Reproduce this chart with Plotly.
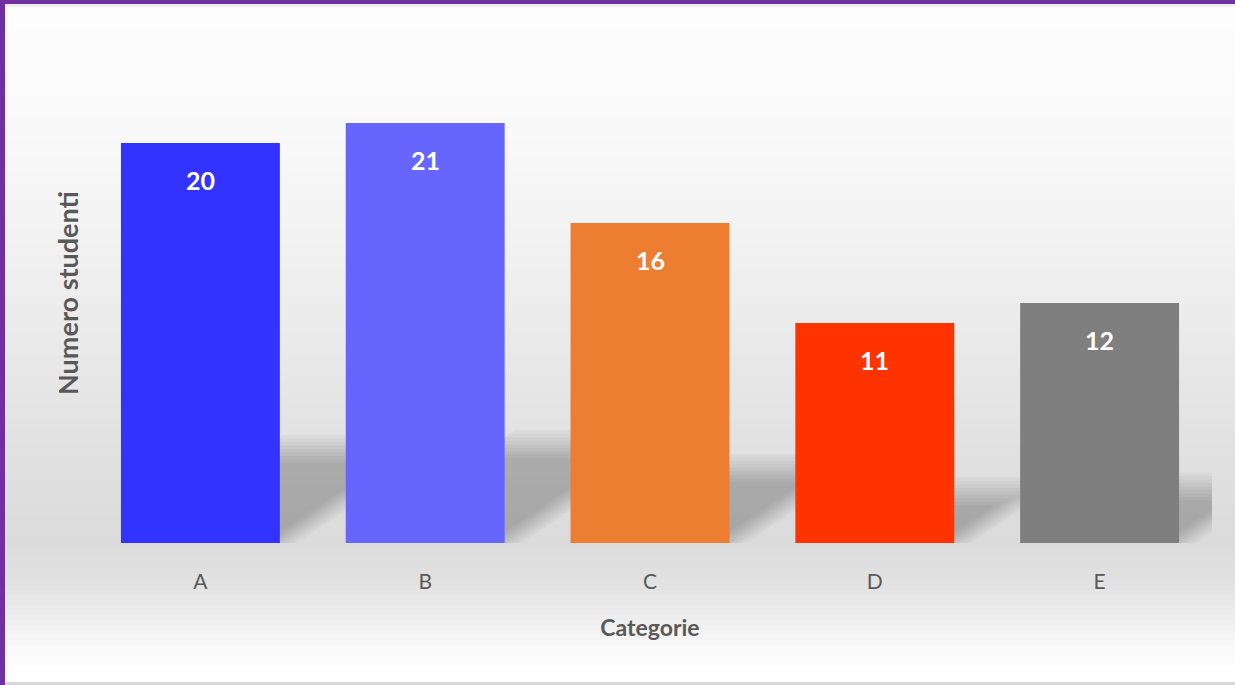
import plotly.graph_objects as go

# ---- data ----
categories = ["A", "B", "C", "D", "E"]
values = [20, 21, 16, 11, 12]
bar_colors = ["#3333FF", "#6666FF", "#ED7D31", "#FF3300", "#7F7F7F"]
x_title = "Categorie"
y_title = "Numero studenti"

# ---- geometry / style ----
W, H = 1235, 685
ML, MR, MT, MB = 88, 23, 43, 142
PW, PH = W - ML - MR, H - MT - MB
Y_MAX = 25
BAR_W = 0.707
TEXT = "#595959"
FONT = "Lato"
PX_X = 5 / PW       # category units per pixel
PX_Y = Y_MAX / PH   # value units per pixel


def paper_y(py):
    return (H - MB - py) / PH


def paper_x(px):
    return (px - ML) / PW


fig = go.Figure()
fig.add_trace(go.Bar(
    x=categories, y=values, width=BAR_W,
    marker=dict(color=bar_colors, line=dict(width=0)),
    hoverinfo="x+y", showlegend=False,
))

shapes = []

# background gradient (white -> grey -> white)
stops = [(0, 253), (60, 252), (150, 248), (250, 241), (350, 233), (450, 225),
         (540, 219), (580, 225), (620, 238), (650, 250), (670, 254), (685, 255)]


def grey_at(py):
    for (y0, c0), (y1, c1) in zip(stops[:-1], stops[1:]):
        if y0 <= py <= y1:
            t = (py - y0) / (y1 - y0) if y1 > y0 else 0
            return c0 + (c1 - c0) * t
    return stops[-1][1]


STEP = 5
for py in range(0, H, STEP):
    g = int(round(grey_at(py + STEP / 2)))
    shapes.append(dict(type="rect", xref="paper", yref="paper", layer="below",
                       x0=paper_x(0), x1=paper_x(W), y0=paper_y(py), y1=paper_y(py + STEP + 1),
                       fillcolor=f"rgb({g},{g},{g})", line=dict(width=0)))

# bottom thin line
shapes.append(dict(type="rect", xref="paper", yref="paper", layer="below",
                   x0=paper_x(0), x1=paper_x(W), y0=paper_y(685), y1=paper_y(682),
                   fillcolor="#d6d6d6", line=dict(width=0)))
# purple frame (top & left)
shapes.append(dict(type="rect", xref="paper", yref="paper", layer="below",
                   x0=paper_x(0), x1=paper_x(W), y0=paper_y(4), y1=paper_y(0),
                   fillcolor="#7030A0", line=dict(width=0)))
shapes.append(dict(type="rect", xref="paper", yref="paper", layer="below",
                   x0=paper_x(0), x1=paper_x(5), y0=paper_y(H), y1=paper_y(0),
                   fillcolor="#7030A0", line=dict(width=0)))
shapes.append(dict(type="rect", xref="paper", yref="paper", layer="below",
                   x0=paper_x(5), x1=paper_x(W), y0=paper_y(7), y1=paper_y(4),
                   fillcolor="rgba(0,0,0,0.06)", line=dict(width=0)))

# perspective shadows behind bars (sheared projection of each bar, soft edges)
SH_H = 0.235         # shadow height relative to bar height
SH_SHEAR = 1.5       # horizontal shift per unit of shadow height (pixels)
N_LAYERS = 9
for i, v in enumerate(values):
    hs_px = SH_H * v / PX_Y
    dx_px = SH_SHEAR * hs_px
    x0 = i - BAR_W / 2
    x1 = i + BAR_W / 2
    for k in range(N_LAYERS):
        d = (k - (N_LAYERS - 1) / 2) * 3.5  # pixels of blur offset
        top = (hs_px - d) * PX_Y
        shift = (dx_px - d * SH_SHEAR) * PX_X
        rx = x1 - d * PX_X * 1.2
        path = (f"M {x0},0 L {rx},0 L {rx + shift},{top} L {x0 + shift},{top} Z")
        shapes.append(dict(type="path", xref="x", yref="y", layer="below", path=path,
                           fillcolor="rgba(0,0,0,0.027)", line=dict(width=0)))

# data labels inside top of bars
annotations = []
for c, v in zip(categories, values):
    annotations.append(dict(x=c, y=v, xref="x", yref="y", text=f"<b>{v}</b>",
                            showarrow=False, yshift=-37,
                            font=dict(family=FONT, size=25, color="white")))

fig.update_layout(
    width=W, height=H,
    margin=dict(l=ML, r=MR, t=MT, b=MB, pad=0),
    paper_bgcolor="white",
    plot_bgcolor="rgba(0,0,0,0)",
    shapes=shapes,
    annotations=annotations,
    bargap=1 - BAR_W,
    font=dict(family=FONT, color=TEXT),
    xaxis=dict(
        range=[-0.5, 4.5], showgrid=False, zeroline=False, showline=False,
        ticks="", ticklabelstandoff=24,
        tickfont=dict(family=FONT, size=21, color=TEXT),
        title=dict(text=f"<b>{x_title}</b>", standoff=27,
                   font=dict(family=FONT, size=23, color=TEXT)),
        automargin=False, fixedrange=True,
    ),
    yaxis=dict(
        range=[0, Y_MAX], showgrid=False, zeroline=False, showline=False,
        showticklabels=False, ticks="",
        title=dict(text=f"<b>{y_title}</b>", standoff=0,
                   font=dict(family=FONT, size=27, color=TEXT)),
        automargin=False, fixedrange=True,
    ),
)

fig.write_html("out.html", config={"displayModeBar": False})
